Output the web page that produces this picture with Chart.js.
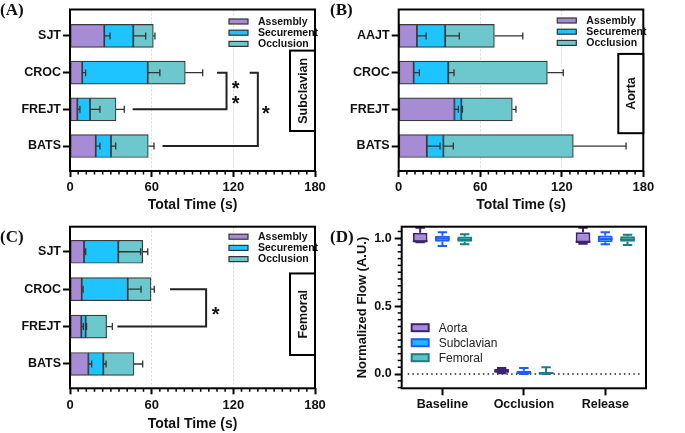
<!DOCTYPE html>
<html><head><meta charset="utf-8">
<script src="https://cdn.jsdelivr.net/npm/chart.js@4.4.0/dist/chart.umd.min.js"></script>
<style>
html,body{margin:0;padding:0;background:#fff;}
#wrap{position:relative;width:685px;height:433px;overflow:hidden;background:#fff;}
canvas{position:absolute;}
.lab{position:absolute;font-family:"Liberation Serif","Times New Roman",serif;font-weight:bold;font-size:17px;color:#111;line-height:1;}
</style></head>
<body><div id="wrap">
<canvas id="cA" width="340" height="215" style="left:0;top:0"></canvas>
<canvas id="cB" width="345" height="215" style="left:340px;top:0"></canvas>
<canvas id="cC" width="340" height="218" style="left:0;top:215px"></canvas>
<canvas id="cD" width="345" height="218" style="left:340px;top:215px"></canvas>
<div class="lab" style="left:0;top:1px">(A)</div>
<div class="lab" style="left:330px;top:1px">(B)</div>
<div class="lab" style="left:0;top:228px">(C)</div>
<div class="lab" style="left:330px;top:228px">(D)</div>
</div>
<script>
// ---------- DATA ----------
const seriesNames = ['Assembly', 'Securement', 'Occlusion'];
const xTickValues = [0, 60, 120, 180];

// (A) Subclavian
const catsA = ['SJT', 'CROC', 'FREJT', 'BATS'];
const assemblyA = [25.2, 9.0, 5.4, 18.9];
const securementA = [21.3, 48.1, 9.3, 11.2];
const occlusionA = [14.7, 27.6, 19.1, 27.4];
const assemblyErrA = [4.2, 2.5, 1.9, 3.1];
const securementErrA = [9.1, 8.9, 7.3, 3.5];
const occlusionErrA = [1.2, 12.8, 6.1, 4.2];

// (B) Aorta
const catsB = ['AAJT', 'CROC', 'FREJT', 'BATS'];
const assemblyB = [13.4, 11.0, 41.0, 20.7];
const securementB = [20.8, 25.5, 5.1, 12.2];
const occlusionB = [36.2, 72.9, 37.5, 95.6];
const assemblyErrB = [6.8, 4.2, 2.9, 9.7];
const securementErrB = [10.4, 4.2, 0.8, 7.3];
const occlusionErrB = [20.9, 11.7, 2.7, 38.8];

// (C) Femoral
const catsC = ['SJT', 'CROC', 'FREJT', 'BATS'];
const assemblyC = [10.3, 8.6, 8.3, 13.5];
const securementC = [25.2, 33.8, 3.2, 11.0];
const occlusionC = [17.9, 17.1, 15.4, 22.5];
const assemblyErrC = [1.2, 1.0, 1.5, 2.4];
const securementErrC = [16.4, 9.8, 0.7, 2.0];
const occlusionErrC = [3.7, 2.4, 4.2, 6.4];

// (D) Normalized flow box plots
const phases = ['Baseline', 'Occlusion', 'Release'];
const regions = ['Aorta', 'Subclavian', 'Femoral'];
const aortaMin = [0.970, 0.005, 0.960];
const aortaQ1 = [0.970, 0.010, 0.965];
const aortaMed = [0.978, 0.020, 0.975];
const aortaQ3 = [1.040, 0.037, 1.044];
const aortaMax = [1.078, 0.045, 1.078];
const subclavianMin = [0.943, 0.000, 0.955];
const subclavianQ1 = [0.975, 0.000, 0.970];
const subclavianMed = [0.998, 0.008, 0.995];
const subclavianQ3 = [1.019, 0.025, 1.020];
const subclavianMax = [1.044, 0.045, 1.045];
const femoralMin = [0.956, 0.000, 0.950];
const femoralQ1 = [0.975, 0.000, 0.975];
const femoralMed = [0.990, 0.008, 0.990];
const femoralQ3 = [1.012, 0.015, 1.015];
const femoralMax = [1.030, 0.050, 1.025];
const yTickValuesD = [0, 0.5, 1.0];

// ---------- STYLE ----------
const FONT = '"Liberation Sans", Arial, Helvetica, sans-serif';
const barFills = ['#a68bd5', '#1ec4ff', '#6cc8cc'];
const boxFills = ['#a68bd5', '#22b8ff', '#5fc2c5'];
const boxLines = ['#3d2472', '#1e5cff', '#1c7e83'];

const barPanelPlugin = {
  id: 'barPanel',
  afterDatasetsDraw(chart, args, o) {
    const ctx = chart.ctx, xs = chart.scales.x;
    const dsets = chart.data.datasets;
    ctx.save();
    ctx.strokeStyle = '#333'; ctx.lineWidth = 1.3;
    dsets.forEach((ds, di) => {
      const meta = chart.getDatasetMeta(di);
      meta.data.forEach((bar, i) => {
        let cum = 0;
        for (let k = 0; k <= di; k++) cum += dsets[k].data[i].x;
        const err = o.errors[di][i];
        const x0 = xs.getPixelForValue(cum), x1 = xs.getPixelForValue(cum + err), y = bar.y;
        ctx.beginPath();
        ctx.moveTo(x0, y); ctx.lineTo(x1, y);
        ctx.moveTo(x1, y - 3.5); ctx.lineTo(x1, y + 3.5);
        ctx.stroke();
      });
    });
    ctx.restore();
  },
  afterDraw(chart, args, o) {
    const ctx = chart.ctx, xs = chart.scales.x, ys = chart.scales.y, ca = chart.chartArea;
    ctx.save();
    // minor ticks
    ctx.strokeStyle = '#000'; ctx.lineWidth = 1.5;
    for (let v = 0; v <= 180; v += o.minorStep) {
      if (v % 60 === 0) continue;
      const px = xs.getPixelForValue(v);
      ctx.beginPath(); ctx.moveTo(px, ca.bottom); ctx.lineTo(px, ca.bottom + 3.5); ctx.stroke();
    }
    // frame
    ctx.lineWidth = 2; ctx.strokeStyle = '#000';
    ctx.strokeRect(ca.left, ca.top, ca.right - ca.left, ca.bottom - ca.top);
    // brackets
    (o.brackets || []).forEach(b => {
      ctx.lineWidth = 2; ctx.strokeStyle = '#222';
      ctx.beginPath();
      ctx.moveTo(xs.getPixelForValue(b.fromStart), ys.getPixelForValue(b.from));
      ctx.lineTo(xs.getPixelForValue(b.xEnd), ys.getPixelForValue(b.from));
      ctx.lineTo(xs.getPixelForValue(b.xEnd), ys.getPixelForValue(b.to));
      ctx.lineTo(xs.getPixelForValue(b.toStart), ys.getPixelForValue(b.to));
      ctx.stroke();
      ctx.fillStyle = '#111';
      ctx.font = 'bold 20px ' + FONT;
      ctx.textAlign = 'center'; ctx.textBaseline = 'middle';
      b.stars.forEach(s => ctx.fillText('*', xs.getPixelForValue(s.x), ys.getPixelForValue(s.y) + 5));
    });
    // tag box
    const ty0 = ys.getPixelForValue(o.tagRange[0]), ty1 = ys.getPixelForValue(o.tagRange[1]);
    ctx.fillStyle = '#fff';
    ctx.fillRect(ca.right - 25, ty0, 25, ty1 - ty0);
    ctx.lineWidth = 2; ctx.strokeStyle = '#000';
    ctx.strokeRect(ca.right - 25, ty0, 25, ty1 - ty0);
    ctx.save();
    ctx.translate(ca.right - 12.5, (ty0 + ty1) / 2);
    ctx.rotate(-Math.PI / 2);
    ctx.fillStyle = '#111'; ctx.font = 'bold 12.5px ' + FONT;
    ctx.textAlign = 'center'; ctx.textBaseline = 'middle';
    ctx.fillText(o.tag, 0, 1);
    ctx.restore();
    // legend
    chart.data.datasets.forEach((ds, i) => {
      const y = ca.top + o.legendTop + i * 11.2;
      const x = ca.right - 86;
      ctx.fillStyle = ds.backgroundColor;
      ctx.fillRect(x, y - 2.5, 19, 5);
      ctx.lineWidth = 1.2; ctx.strokeStyle = '#333';
      ctx.strokeRect(x, y - 2.5, 19, 5);
      ctx.fillStyle = '#111'; ctx.font = 'bold 10.5px ' + FONT;
      ctx.textAlign = 'left'; ctx.textBaseline = 'middle';
      ctx.fillText(ds.label, x + 29, y + 0.5);
    });
    ctx.restore();
  }
};

function barPanel(id, cats, vals, errs, opt) {
  const datasets = vals.map((arr, k) => ({
    label: seriesNames[k],
    data: arr.map((v, i) => ({x: v, y: i})),
    backgroundColor: barFills[k],
    borderColor: '#3a3a3a',
    borderWidth: 1.2,
    borderSkipped: false,
    barThickness: 23
  }));
  return new Chart(document.getElementById(id), {
    type: 'bar',
    data: {datasets},
    options: {
      indexAxis: 'y', responsive: false, animation: false, events: [],
      layout: {padding: {top: opt.padTop, right: opt.padRight, left: 0, bottom: 0}},
      plugins: {
        legend: {display: false}, tooltip: {enabled: false},
        barPanel: {errors: errs, minorStep: 6, brackets: opt.brackets, tag: opt.tag, tagRange: opt.tagRange, legendTop: opt.legendTop}
      },
      scales: {
        x: {
          type: 'linear', stacked: true, min: 0, max: 180, position: 'bottom', offset: false,
          afterBuildTicks: s => { s.ticks = xTickValues.map(v => ({value: v})); },
          afterFit: s => { s.height = opt.xHeight; },
          ticks: {font: {family: FONT, size: 13, weight: 'bold'}, color: '#111', padding: 3, autoSkip: false, maxRotation: 0},
          grid: {
            offset: false,
            color: c => (c.tick && c.tick.value > 0 && c.tick.value < 180) ? '#d9d9d9' : 'rgba(0,0,0,0)',
            lineWidth: 1, tickColor: '#000', tickWidth: 2, tickLength: 6
          },
          border: {display: false, dash: [2, 2]},
          title: {display: true, text: 'Total Time (s)', color: '#111', font: {family: FONT, size: 14, weight: 'bold'}, padding: {top: 0, bottom: opt.titlePad}}
        },
        y: {
          type: 'linear', stacked: true, reverse: true, min: opt.yMin, max: opt.yMax, offset: false,
          afterBuildTicks: s => { s.ticks = cats.map((c, i) => ({value: i})); },
          afterFit: s => { s.width = opt.yWidth; },
          ticks: {callback: v => cats[v], font: {family: FONT, size: 12.5, weight: 'bold'}, color: '#111', padding: 2, autoSkip: false},
          grid: {offset: false, drawOnChartArea: false, tickColor: '#000', tickWidth: 2, tickLength: 7},
          border: {display: false}
        }
      }
    },
    plugins: [barPanelPlugin]
  });
}

barPanel('cA', catsA, [assemblyA, securementA, occlusionA], [assemblyErrA, securementErrA, occlusionErrA], {
  padTop: 6, padRight: 25, xHeight: 44, yWidth: 70, yMin: -0.72, yMax: 3.68, titlePad: 1.6,
  tag: 'Subclavian', tagRange: [0.4, 2.59], legendTop: 12,
  brackets: [
    {from: 1, to: 2, fromStart: 108, toStart: 46, xEnd: 115, stars: [{x: 121.7, y: 1.33}, {x: 121.7, y: 1.74}]},
    {from: 1, to: 3, fromStart: 132, toStart: 68, xEnd: 138, stars: [{x: 144, y: 2.0}]}
  ]
});
barPanel('cB', catsB, [assemblyB, securementB, occlusionB], [assemblyErrB, securementErrB, occlusionErrB], {
  padTop: 6, padRight: 41.7, xHeight: 44, yWidth: 58.7, yMin: -0.72, yMax: 3.68, titlePad: 1.6,
  tag: 'Aorta', tagRange: [0.49, 2.65], legendTop: 11, brackets: []
});
barPanel('cC', catsC, [assemblyC, securementC, occlusionC], [assemblyErrC, securementErrC, occlusionErrC], {
  padTop: 11.7, padRight: 25, xHeight: 44.7, yWidth: 70, yMin: -0.67, yMax: 3.65, titlePad: 0,
  tag: 'Femoral', tagRange: [0.58, 2.76], legendTop: 10,
  brackets: [
    {from: 1, to: 2, fromStart: 73.5, toStart: 34.8, xEnd: 100, stars: [{x: 107, y: 1.56}]}
  ]
});

// ---------- (D) ----------
const boxStats = [
  {min: aortaMin, q1: aortaQ1, med: aortaMed, q3: aortaQ3, max: aortaMax},
  {min: subclavianMin, q1: subclavianQ1, med: subclavianMed, q3: subclavianQ3, max: subclavianMax},
  {min: femoralMin, q1: femoralQ1, med: femoralMed, q3: femoralQ3, max: femoralMax}
];

const boxPlugin = {
  id: 'boxPanel',
  beforeDatasetsDraw(chart) {
    const ctx = chart.ctx, ys = chart.scales.y, ca = chart.chartArea;
    const y0 = ys.getPixelForValue(0);
    ctx.save();
    ctx.strokeStyle = '#222'; ctx.lineWidth = 1.5; ctx.setLineDash([1.5, 3.2]);
    ctx.beginPath(); ctx.moveTo(ca.left + 6, y0); ctx.lineTo(ca.right - 4, y0); ctx.stroke();
    ctx.restore();
  },
  afterDatasetsDraw(chart) {
    const ctx = chart.ctx, ys = chart.scales.y;
    ctx.save();
    ctx.lineWidth = 2;
    chart.data.datasets.forEach((ds, di) => {
      const st = boxStats[di];
      const meta = chart.getDatasetMeta(di);
      ctx.strokeStyle = boxLines[di];
      meta.data.forEach((bar, i) => {
        const cx = bar.x, w = bar.width, cap = w * 0.32;
        const pq1 = ys.getPixelForValue(st.q1[i]), pq3 = ys.getPixelForValue(st.q3[i]);
        const pmin = ys.getPixelForValue(st.min[i]), pmax = ys.getPixelForValue(st.max[i]);
        const pmed = ys.getPixelForValue(st.med[i]);
        ctx.beginPath();
        ctx.moveTo(cx, pq3); ctx.lineTo(cx, pmax);
        ctx.moveTo(cx - cap, pmax); ctx.lineTo(cx + cap, pmax);
        ctx.moveTo(cx, pq1); ctx.lineTo(cx, pmin);
        ctx.moveTo(cx - cap, pmin); ctx.lineTo(cx + cap, pmin);
        ctx.moveTo(cx - w / 2, pmed); ctx.lineTo(cx + w / 2, pmed);
        ctx.stroke();
      });
    });
    ctx.restore();
  },
  afterDraw(chart) {
    const ctx = chart.ctx, ys = chart.scales.y, ca = chart.chartArea;
    ctx.save();
    ctx.strokeStyle = '#000'; ctx.lineWidth = 1.5;
    for (let k = -2; k <= 21; k++) {
      const v = k * 0.05;
      if (k % 10 === 0) continue;
      const py = ys.getPixelForValue(v);
      if (py < ca.top - 0.5 || py > ca.bottom + 0.5) continue;
      ctx.beginPath(); ctx.moveTo(ca.left - 4, py); ctx.lineTo(ca.left, py); ctx.stroke();
    }
    ctx.lineWidth = 2;
    ctx.strokeRect(ca.left, ca.top, ca.right - ca.left, ca.bottom - ca.top);
    // legend
    chart.data.datasets.forEach((ds, i) => {
      const y = ca.top + 101 + i * 15;
      const x = ca.left + 10;
      ctx.fillStyle = boxFills[i];
      ctx.fillRect(x, y - 3.5, 17, 7);
      ctx.lineWidth = 2; ctx.strokeStyle = boxLines[i];
      ctx.strokeRect(x, y - 3.5, 17, 7);
      ctx.fillStyle = '#222'; ctx.font = '12px ' + FONT;
      ctx.textAlign = 'left'; ctx.textBaseline = 'middle';
      ctx.fillText(ds.label, x + 27, y + 0.5);
    });
    ctx.restore();
  }
};

new Chart(document.getElementById('cD'), {
  type: 'bar',
  data: {
    labels: phases,
    datasets: regions.map((r, k) => ({
      label: r,
      data: phases.map((p, i) => [boxStats[k].q1[i], boxStats[k].q3[i]]),
      backgroundColor: boxFills[k],
      borderColor: boxLines[k],
      borderWidth: 2,
      borderSkipped: false,
      categoryPercentage: 0.82,
      barPercentage: 0.66
    }))
  },
  options: {
    responsive: false, animation: false, events: [],
    layout: {padding: {top: 11.7, right: 39, left: 0, bottom: 0}},
    plugins: {legend: {display: false}, tooltip: {enabled: false}},
    scales: {
      x: {
        type: 'category',
        afterFit: s => { s.height = 44.7; },
        ticks: {font: {family: FONT, size: 12.5, weight: 'bold'}, color: '#111', padding: 2},
        grid: {offset: false, drawOnChartArea: false, tickColor: '#000', tickWidth: 2, tickLength: 7},
        border: {display: false}
      },
      y: {
        type: 'linear', min: -0.105, max: 1.085,
        afterBuildTicks: s => { s.ticks = yTickValuesD.map(v => ({value: v})); },
        afterFit: s => { s.width = 61.7; },
        ticks: {callback: v => Number(v).toFixed(1), font: {family: FONT, size: 12.5, weight: 'bold'}, color: '#111', padding: 3},
        grid: {drawOnChartArea: false, tickColor: '#000', tickWidth: 2, tickLength: 7},
        border: {display: false},
        title: {display: true, text: 'Normalized Flow (A.U.)', color: '#111', font: {family: FONT, size: 13, weight: 'bold'}, padding: {top: 15, bottom: 0}}
      }
    }
  },
  plugins: [boxPlugin]
});
</script>
</body></html>
